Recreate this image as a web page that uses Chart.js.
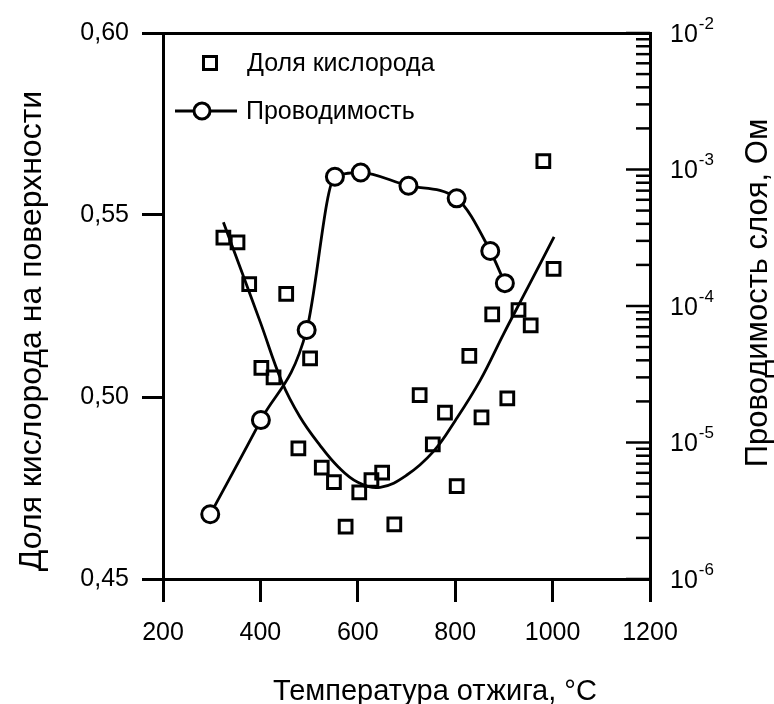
<!DOCTYPE html>
<html>
<head>
<meta charset="utf-8">
<script src="https://cdn.jsdelivr.net/npm/chart.js@4.4.1/dist/chart.umd.min.js"></script>
<style>
html, body { margin: 0; padding: 0; background: #fff; }
#wrap { width: 774px; height: 704px; }
</style>
</head>
<body>
<div id="wrap"><canvas id="grafico" width="774" height="704"></canvas></div>
<script>
// доля кислорода (квадраты)
const tempO2 = [324, 353, 377, 402, 427, 453, 478, 502, 526, 551, 575, 603, 628, 650, 675, 727, 754, 779, 803, 829, 854, 876, 907, 930, 955, 981, 1002];
const dolyaO2 = [0.5438, 0.5425, 0.531, 0.508, 0.5054, 0.5283, 0.4859, 0.5106, 0.4806, 0.4766, 0.4644, 0.4738, 0.4772, 0.4792, 0.465, 0.5005, 0.487, 0.4957, 0.4755, 0.5113, 0.4944, 0.5227, 0.4996, 0.5239, 0.5197, 0.5648, 0.5352];

// сглаживающая кривая по квадратам
const tempFit = [324, 360, 400, 444, 481, 522, 560, 600, 646, 700, 755, 800, 851, 900, 950, 1003];
const dolyaFit = [0.548, 0.535, 0.5205, 0.5042, 0.4946, 0.4868, 0.4808, 0.4766, 0.4752, 0.4785, 0.485, 0.4935, 0.5045, 0.5175, 0.5303, 0.544];

// проводимость (кружки), лог. шкала
const tempSigma = [297, 401, 495, 553, 606, 704, 803, 872, 902];
const provodimost = [2.98e-6, 1.46e-5, 6.67e-5, 8.85e-4, 9.5e-4, 7.6e-4, 6.15e-4, 2.53e-4, 1.47e-4];

// деления осей
const xTicks = [200, 400, 600, 800, 1000, 1200];
const yTicks = [0.45, 0.50, 0.55, 0.60];
const logPowers = [-6, -5, -4, -3, -2];

const shrift = 'Liberation Sans, Arial, sans-serif';

const toPts = (xs, ys) => xs.map((x, i) => ({ x: x, y: ys[i] }));

const dorisovka = {
    id: 'dorisovka',
    afterDraw(chart) {
        const ctx = chart.ctx;
        const area = chart.chartArea;
        const y2 = chart.scales.y2;
        ctx.save();
        ctx.strokeStyle = '#000';
        ctx.fillStyle = '#000';
        ctx.lineWidth = 2.5;

        // правая ось: деления внутрь и подписи 10^n
        logPowers.forEach((p, i) => {
            let py = y2.getPixelForValue(Math.pow(10, p));
            ctx.beginPath();
            ctx.moveTo(area.right - 24, py);
            ctx.lineTo(area.right, py);
            ctx.stroke();
            if (i < logPowers.length - 1) {
                for (let m = 2; m <= 9; m++) {
                    let my = y2.getPixelForValue(m * Math.pow(10, p));
                    ctx.beginPath();
                    ctx.moveTo(area.right - 14, my);
                    ctx.lineTo(area.right, my);
                    ctx.stroke();
                }
            }
            ctx.font = '25px ' + shrift;
            ctx.textAlign = 'left';
            ctx.textBaseline = 'middle';
            ctx.fillText('10', 670, py + 2);
            let w = ctx.measureText('10').width;
            ctx.font = '17px ' + shrift;
            ctx.fillText(String(p), 670 + w + 1, py - 9);
        });

        // названия осей
        ctx.font = '29px ' + shrift;
        ctx.textAlign = 'center';
        ctx.textBaseline = 'alphabetic';
        ctx.fillText('Температура отжига, °С', 435, 700);

        ctx.save();
        ctx.font = '32px ' + shrift;
        ctx.translate(41, 331);
        ctx.rotate(-Math.PI / 2);
        ctx.fillText('Доля кислорода на поверхности', 0, 0);
        ctx.restore();

        ctx.save();
        ctx.font = '31px ' + shrift;
        ctx.translate(767, 293);
        ctx.rotate(-Math.PI / 2);
        ctx.fillText('Проводимость слоя, Ом', 0, 0);
        ctx.restore();

        // легенда внутри поля
        ctx.lineWidth = 3;
        ctx.strokeRect(210 - 6.5, 63 - 6.5, 13, 13);
        ctx.beginPath();
        ctx.moveTo(175, 111);
        ctx.lineTo(237, 111);
        ctx.stroke();
        ctx.beginPath();
        ctx.arc(202, 111, 8, 0, Math.PI * 2);
        ctx.fillStyle = '#fff';
        ctx.fill();
        ctx.stroke();
        ctx.fillStyle = '#000';
        ctx.font = '25px ' + shrift;
        ctx.textAlign = 'left';
        ctx.textBaseline = 'middle';
        ctx.fillText('Доля кислорода', 247, 64);
        ctx.fillText('Проводимость', 246, 112);
        ctx.restore();
    }
};

document.onreadystatechange = function () {
    if (document.readyState == "complete") {
        let ctx = document.getElementById("grafico").getContext("2d");
        new Chart(ctx, {
            type: 'scatter',
            data: {
                datasets: [
                    {
                        label: 'fit',
                        data: toPts(tempFit, dolyaFit),
                        yAxisID: 'y',
                        showLine: true,
                        borderColor: '#000',
                        borderWidth: 2.8,
                        pointRadius: 0,
                        tension: 0.4,
                        fill: false
                    },
                    {
                        label: 'Проводимость',
                        data: toPts(tempSigma, provodimost),
                        yAxisID: 'y2',
                        showLine: true,
                        borderColor: '#000',
                        borderWidth: 2.8,
                        cubicInterpolationMode: 'monotone',
                        pointStyle: 'circle',
                        pointRadius: 8.5,
                        pointBorderWidth: 3,
                        pointBorderColor: '#000',
                        pointBackgroundColor: '#fff',
                        fill: false
                    },
                    {
                        label: 'Доля кислорода',
                        data: toPts(tempO2, dolyaO2),
                        yAxisID: 'y',
                        pointStyle: 'rect',
                        pointRadius: 9,
                        pointBorderWidth: 3,
                        pointBorderColor: '#000',
                        pointBackgroundColor: 'rgba(0,0,0,0)'
                    }
                ]
            },
            options: {
                responsive: false,
                animation: false,
                layout: { padding: 0, autoPadding: false },
                plugins: {
                    legend: { display: false },
                    tooltip: { enabled: false }
                },
                elements: { point: { hoverRadius: 8 } },
                scales: {
                    x: {
                        type: 'linear',
                        position: 'bottom',
                        min: 200,
                        max: 1200,
                        afterBuildTicks: s => { s.ticks = xTicks.map(v => ({ value: v })); },
                        afterFit: s => { s.height = 125; },
                        grid: { drawOnChartArea: false, tickLength: 23, lineWidth: 3, color: '#000' },
                        border: { display: true, width: 3, color: '#000' },
                        ticks: {
                            color: '#000',
                            padding: 16,
                            maxRotation: 0,
                            font: { family: shrift, size: 25 },
                            callback: v => String(v)
                        }
                    },
                    x2: {
                        type: 'linear',
                        axis: 'x',
                        position: 'top',
                        min: 200,
                        max: 1200,
                        afterFit: s => { s.height = 33; },
                        grid: { display: false },
                        border: { display: true, width: 3, color: '#000' },
                        ticks: { display: false }
                    },
                    y: {
                        type: 'linear',
                        position: 'left',
                        min: 0.45,
                        max: 0.60,
                        afterBuildTicks: s => { s.ticks = yTicks.map(v => ({ value: v })); },
                        afterFit: s => { s.width = 163; },
                        grid: { drawOnChartArea: false, tickLength: 21, lineWidth: 3, color: '#000' },
                        border: { display: true, width: 3, color: '#000' },
                        ticks: {
                            color: '#000',
                            padding: 13,
                            font: { family: shrift, size: 25 },
                            callback: v => v.toFixed(2).replace('.', ',')
                        }
                    },
                    y2: {
                        type: 'logarithmic',
                        position: 'right',
                        min: 1e-6,
                        max: 1e-2,
                        afterFit: s => { s.width = 124; },
                        grid: { display: false },
                        border: { display: true, width: 3, color: '#000' },
                        ticks: { display: false }
                    }
                }
            },
            plugins: [dorisovka]
        });
    }
}
</script>
</body>
</html>
